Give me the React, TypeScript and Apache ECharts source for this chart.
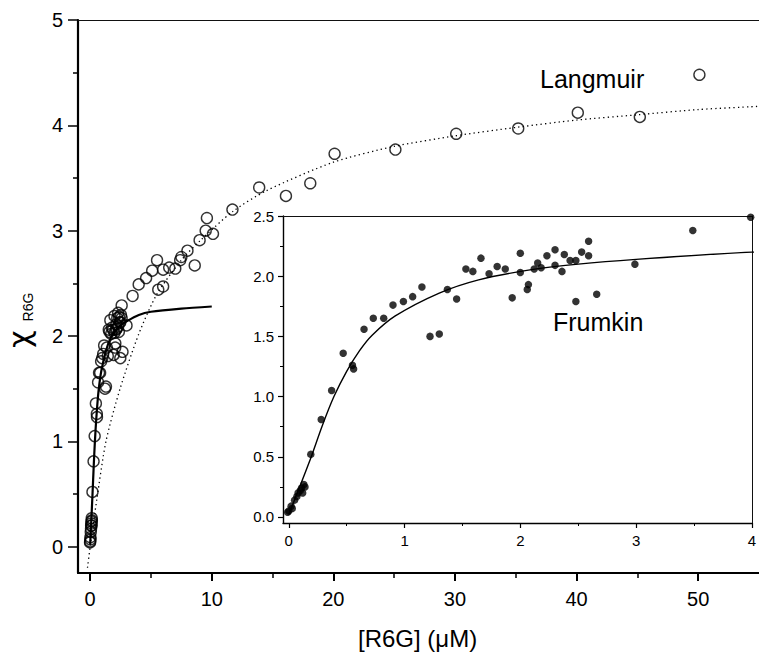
import React, { useEffect, useRef } from "react";
import * as echarts from "echarts";

// Frumkin data (inset, filled dots; also the low-concentration open circles of the main plot)
const lowData: [number, number][] = [
  [-0.01, 0.04], [0.0, 0.05], [0.02, 0.09], [0.03, 0.07], [0.05, 0.14], [0.07, 0.17],
  [0.08, 0.2], [0.1, 0.22], [0.11, 0.24], [0.12, 0.2], [0.13, 0.27], [0.14, 0.25],
  [0.19, 0.52], [0.28, 0.81], [0.37, 1.05], [0.47, 1.36], [0.55, 1.26], [0.56, 1.23],
  [0.65, 1.56], [0.73, 1.65], [0.82, 1.65], [0.9, 1.76], [0.99, 1.79], [1.07, 1.83],
  [1.15, 1.91], [1.22, 1.5], [1.3, 1.52], [1.37, 1.89], [1.45, 1.81], [1.53, 2.06],
  [1.59, 2.04], [1.66, 2.15], [1.73, 2.02], [1.8, 2.08], [1.87, 2.06], [1.93, 1.82],
  [2.0, 2.19], [2.0, 2.03], [2.06, 1.89], [2.07, 1.93], [2.12, 2.06], [2.15, 2.11],
  [2.18, 2.07], [2.23, 2.17], [2.3, 2.22], [2.3, 2.09], [2.36, 2.04], [2.38, 2.18],
  [2.43, 2.13], [2.48, 2.13], [2.53, 2.2], [2.59, 2.17], [2.59, 2.29], [2.48, 1.79],
  [2.66, 1.85], [2.99, 2.1], [3.49, 2.38], [3.99, 2.49],
];

// Higher-concentration open circles (main plot only)
const highData: [number, number][] = [
  [4.6, 2.55], [5.1, 2.62], [5.5, 2.72], [5.6, 2.44], [6.0, 2.47], [6.0, 2.63],
  [6.5, 2.65], [7.0, 2.64], [7.4, 2.72], [7.5, 2.75], [8.0, 2.81], [8.6, 2.67],
  [9.0, 2.91], [9.5, 3.0], [9.6, 3.12], [10.1, 2.97], [11.7, 3.2], [13.9, 3.41],
  [16.1, 3.33], [18.1, 3.45], [20.1, 3.73], [25.1, 3.77], [30.1, 3.92], [35.2, 3.97],
  [40.1, 4.12], [45.2, 4.08], [50.1, 4.48],
];

// Fit curves
const langmuirFit: [number, number][] = [
  [-0.22, -0.2], [0, 0], [0.55, 0.45], [1.3, 1.0], [2.46, 1.5], [4.0, 2.02], [5.5, 2.4],
  [7.5, 2.72], [9, 2.9], [11.7, 3.18], [14.5, 3.38], [20, 3.65], [25, 3.8], [30, 3.9],
  [35, 3.98], [40, 4.05], [45, 4.1], [50, 4.15], [55, 4.18],
];

const frumkinFit: [number, number][] = [
  [0, 0.02], [0.09, 0.24], [0.19, 0.49], [0.29, 0.76], [0.39, 1.0], [0.5, 1.21],
  [0.61, 1.38], [0.72, 1.51], [0.92, 1.67], [1.3, 1.86], [1.64, 1.97], [2.07, 2.05],
  [2.5, 2.1], [3.0, 2.14], [4.0, 2.2], [5, 2.23], [7.5, 2.26], [10, 2.28],
];

// Tick values
const mainXTicks = [0, 10, 20, 30, 40, 50];
const mainXMinor = [5, 15, 25, 35, 45];
const mainYTicks = [0, 1, 2, 3, 4, 5];
const mainYMinor = [0.5, 1.5, 2.5, 3.5, 4.5];
const insetXTicks = [0, 1, 2, 3, 4];
const insetXMinor = [0.5, 1.5, 2.5, 3.5];
const insetYTicks = [0, 0.5, 1.0, 1.5, 2.0, 2.5];
const insetYMinor = [0.25, 0.75, 1.25, 1.75, 2.25];

const FONT = "'Liberation Sans', Arial, Helvetica, sans-serif";

export default function App() {
  const ref = useRef<HTMLDivElement>(null);

  useEffect(() => {
    if (!ref.current) return;
    const chart = echarts.init(ref.current, undefined, { renderer: "svg" });

    const hidden = { show: false };
    const lineOnly = (gridIndex: number, position: string, width = 1) => ({
      type: "value",
      gridIndex,
      position,
      axisLine: { show: true, onZero: false, lineStyle: { color: "#111", width } },
      axisTick: hidden,
      axisLabel: hidden,
      splitLine: hidden,
    });

    const option: any = {
      animation: false,
      backgroundColor: "#fff",
      grid: [
        { left: 78, top: 20, right: 0, bottom: 82 },
        { left: 283, top: 216, right: 4, bottom: 132 },
      ],
      xAxis: [
        {
          type: "value", gridIndex: 0, min: -1, max: 55, position: "bottom",
          axisLine: { onZero: false, lineStyle: { color: "#000", width: 2.2 } },
          axisTick: { customValues: mainXTicks, length: 8, lineStyle: { color: "#000", width: 2 } },
          axisLabel: { customValues: mainXTicks, color: "#000", fontSize: 20, fontFamily: FONT, margin: 16 },
          splitLine: hidden,
        },
        {
          type: "value", gridIndex: 0, min: -1, max: 55, position: "bottom",
          axisLine: { show: false, onZero: false },
          axisTick: { customValues: mainXMinor, length: 5, lineStyle: { color: "#000", width: 1.5 } },
          axisLabel: hidden, splitLine: hidden,
        },
        { ...lineOnly(0, "top", 1), min: -1, max: 55 },
        {
          type: "value", gridIndex: 1, min: -0.05, max: 4, position: "bottom",
          axisLine: { onZero: false, lineStyle: { color: "#000", width: 1.4 } },
          axisTick: { customValues: insetXTicks, length: 5, lineStyle: { color: "#000", width: 1.2 } },
          axisLabel: { customValues: insetXTicks, color: "#000", fontSize: 15, fontFamily: FONT, margin: 10 },
          splitLine: hidden,
        },
        {
          type: "value", gridIndex: 1, min: -0.05, max: 4, position: "bottom",
          axisLine: { show: false, onZero: false },
          axisTick: { customValues: insetXMinor, length: 3, lineStyle: { color: "#000", width: 1 } },
          axisLabel: hidden, splitLine: hidden,
        },
        { ...lineOnly(1, "top", 1), min: -0.05, max: 4 },
      ],
      yAxis: [
        {
          type: "value", gridIndex: 0, min: -0.25, max: 5, position: "left",
          axisLine: { onZero: false, lineStyle: { color: "#000", width: 2.2 } },
          axisTick: { customValues: mainYTicks, length: 10, lineStyle: { color: "#000", width: 1.5 } },
          axisLabel: { customValues: mainYTicks, color: "#000", fontSize: 20, fontFamily: FONT, margin: 15 },
          splitLine: hidden,
        },
        {
          type: "value", gridIndex: 0, min: -0.25, max: 5, position: "left",
          axisLine: { show: false, onZero: false },
          axisTick: { customValues: mainYMinor, length: 5, lineStyle: { color: "#000", width: 1.5 } },
          axisLabel: hidden, splitLine: hidden,
        },
        {
          type: "value", gridIndex: 1, min: -0.05, max: 2.5, position: "left",
          axisLine: { onZero: false, lineStyle: { color: "#000", width: 1.4 } },
          axisTick: { customValues: insetYTicks, length: 5, lineStyle: { color: "#000", width: 1.2 } },
          axisLabel: {
            customValues: insetYTicks, color: "#000", fontSize: 15, fontFamily: FONT, margin: 9,
            formatter: (v: number) => v.toFixed(1),
          },
          splitLine: hidden,
        },
        {
          type: "value", gridIndex: 1, min: -0.05, max: 2.5, position: "left",
          axisLine: { show: false, onZero: false },
          axisTick: { customValues: insetYMinor, length: 3, lineStyle: { color: "#000", width: 1 } },
          axisLabel: hidden, splitLine: hidden,
        },
        { ...lineOnly(1, "right", 1), min: -0.05, max: 2.5 },
      ],
      series: [
        {
          name: "Langmuir fit", type: "line", xAxisIndex: 0, yAxisIndex: 0,
          data: langmuirFit, showSymbol: false, smooth: 0.25,
          lineStyle: { color: "#000", width: 1.3, type: [1.3, 3.2] }, clip: true, z: 2,
        },
        {
          name: "Frumkin fit (main)", type: "line", xAxisIndex: 0, yAxisIndex: 0,
          data: frumkinFit, showSymbol: false, smooth: 0.25,
          lineStyle: { color: "#000", width: 2.2 }, clip: true, z: 3,
        },
        {
          name: "Data (main)", type: "scatter", xAxisIndex: 0, yAxisIndex: 0,
          data: [...lowData, ...highData], symbol: "circle", symbolSize: 11,
          itemStyle: { color: "rgba(255,255,255,0)", borderColor: "#000", borderWidth: 1.4 }, z: 4,
        },
        {
          name: "Frumkin fit (inset)", type: "line", xAxisIndex: 3, yAxisIndex: 2,
          data: frumkinFit, showSymbol: false, smooth: 0.25,
          lineStyle: { color: "#000", width: 1.4 }, clip: true, z: 3,
        },
        {
          name: "Data (inset)", type: "scatter", xAxisIndex: 3, yAxisIndex: 2,
          data: lowData, symbol: "circle", symbolSize: 7.5,
          itemStyle: { color: "#000" }, z: 4,
        },
      ],
      graphic: [
        {
          type: "text", left: 540, top: 66,
          style: { text: "Langmuir", fill: "#000", font: `25px ${FONT}` },
        },
        {
          type: "text", left: 553, top: 309,
          style: { text: "Frumkin", fill: "#000", font: `25px ${FONT}` },
        },
        {
          type: "text", left: 358, top: 626,
          style: { text: "[R6G] (\u03BCM)", fill: "#000", font: `24px ${FONT}` },
        },
        {
          type: "text", x: 19, y: 339, rotation: Math.PI / 2,
          style: { text: "\u03C7", fill: "#000", font: `30px 'DejaVu Sans', sans-serif`, align: "center", verticalAlign: "middle" },
        },
        {
          type: "text", x: 28, y: 307, rotation: Math.PI / 2,
          style: { text: "R6G", fill: "#000", font: `14px ${FONT}`, align: "center", verticalAlign: "middle" },
        },
      ],
    };

    chart.setOption(option);
    return () => chart.dispose();
  }, []);

  return (
    <div
      ref={ref}
      style={{ position: "absolute", left: 0, top: 0, width: 759, height: 655, background: "#fff" }}
    />
  );
}
